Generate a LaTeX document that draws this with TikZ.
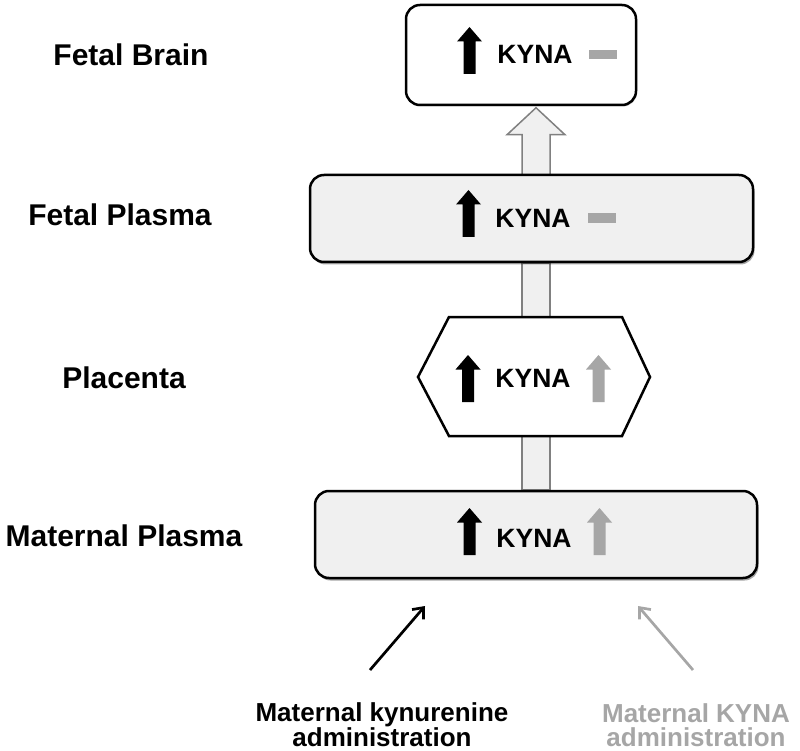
\documentclass[tikz,border=0pt]{standalone}
\usepackage{fontspec}
\setmainfont{Liberation Sans}
\usetikzlibrary{calc,shadows,arrows.meta}
\pgfdeclarelayer{bg}
\pgfsetlayers{bg,main}
\definecolor{boxfill}{HTML}{F0F0F0}
\definecolor{midgray}{HTML}{A6A6A6}
\definecolor{edgegray}{HTML}{808080}
\tikzset{
  panel/.style={draw=black, line width=2.5pt, rounded corners=14pt, inner sep=0pt},
  panelshadow/.style={drop shadow={fill=black, opacity=0.35, shadow xshift=1.5pt, shadow yshift=-2.5pt}},
  hexa/.style={draw=black, line width=2.5pt, fill=white, line join=miter},
  shaft/.style={draw=edgegray, line width=1.5pt, fill=boxfill, line join=miter},
  kyna/.style={font=\bfseries\fontsize{26.5}{30}\selectfont, inner sep=0pt, anchor=base},
  lab/.style={font=\bfseries\fontsize{30}{34}\selectfont, inner sep=0pt, anchor=base},
  botlab/.style={font=\bfseries\fontsize{26}{24}\selectfont, inner sep=0pt, align=center},
  dashbar/.style={fill=midgray, minimum width=28pt, minimum height=9.5pt, inner sep=0pt},
  uparr/.pic={\fill[#1] (-6,23.5) -- (-6,-9) -- (-12.5,-9) -- (0,-23.5) -- (12.5,-9) -- (6,-9) -- (6,23.5) -- cycle;},
  admarrow/.style={line width=2.7pt, -{Straight Barb[length=9pt,width=15pt]}}
}
\begin{document}
\begin{tikzpicture}[x=1pt,y=-1pt]
\useasboundingbox (0,0) rectangle (800,751);
\coordinate (sx) at (536,0);
% boxes
\node[panel, fill=white, drop shadow={fill=black, opacity=0.2, shadow xshift=1pt, shadow yshift=-1.5pt}, minimum width=230pt, minimum height=100pt] (fb) at (521,55) {};
\node[panel, panelshadow, fill=boxfill, minimum width=443pt, minimum height=87pt] (fp) at (531.5,218.5) {};
\draw[hexa] (418,377) -- (449,317) -- (622,317) -- (650,377) -- (622,436) -- (449,436) -- cycle;
\coordinate (plT) at (536,317);
\coordinate (plB) at (536,436);
\node[panel, panelshadow, fill=boxfill, minimum width=442pt, minimum height=87pt] (mp) at (536,534.5) {};
% connectors behind
\begin{pgfonlayer}{bg}
\draw[shaft] ($(fp.south -| sx)+(-14,0)$) rectangle ($(plT)+(14,0)$);
\draw[shaft] ($(plB)+(-14,0)$) rectangle ($(mp.north -| sx)+(14,0)$);
\draw[shaft] ($(fp.north -| sx)+(-14,2)$) -- ($(fp.north -| sx)+(-14,-39)$) -- ($(fp.north -| sx)+(-29,-39)$) -- ($(fb.south -| sx)+(0,1.5)$) -- ($(fp.north -| sx)+(29,-39)$) -- ($(fp.north -| sx)+(14,-39)$) -- ($(fp.north -| sx)+(14,2)$);
\end{pgfonlayer}
% left labels
\node[lab] (lfb) at (131,66) {Fetal Brain};
\node[lab] (lfp) at (120,226) {Fetal Plasma};
\node[lab] (lpl) at (124,388) {Placenta};
\node[lab] (lmp) at (124,546) {Maternal Plasma};
% fetal brain content
\pic at (469.5,50.5) {uparr=black};
\node[kyna] (kfb) at (535,64) {KYNA};
\node[dashbar] (dfb) at (603,54.5) {};
% fetal plasma content
\pic at (468.5,213.5) {uparr=black};
\node[kyna] (kfp) at (533,228) {KYNA};
\node[dashbar] (dfp) at (601.5,218) {};
% placenta content
\pic at (468,378.5) {uparr=black};
\node[kyna] (kpl) at (533,387) {KYNA};
\pic at (598.5,378.5) {uparr=midgray};
% maternal plasma content
\pic at (469.5,531.5) {uparr=black};
\node[kyna] (kmp) at (534,547) {KYNA};
\pic at (599.5,531.5) {uparr=midgray};
% bottom labels
\node[botlab] (kyn) at (382,725) {Maternal kynurenine\\administration};
\node[botlab, text=midgray] (kya) at (696,725) {Maternal KYNA\\administration};
\coordinate (kTail) at (370,670);
\coordinate (kHead) at (425,606);
\coordinate (aTail) at (693,670);
\coordinate (aHead) at (638,606);
\draw[admarrow, black] (kTail) -- (kHead);
\draw[admarrow, midgray] (aTail) -- (aHead);
\end{tikzpicture}
\end{document}
